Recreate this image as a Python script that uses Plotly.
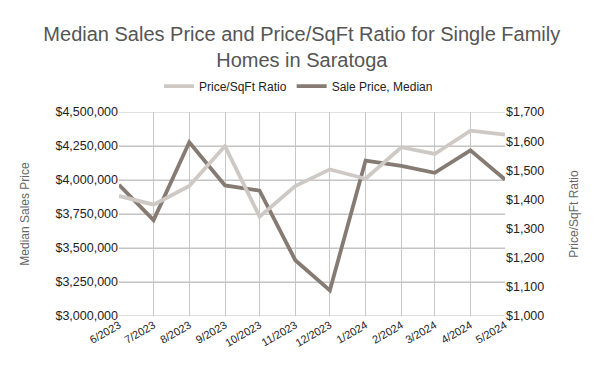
import plotly.graph_objects as go

months = ["2023-06-01", "2023-07-01", "2023-08-01", "2023-09-01", "2023-10-01", "2023-11-01",
          "2023-12-01", "2024-01-01", "2024-02-01", "2024-03-01", "2024-04-01", "2024-05-01"]
tick_labels = ["6/2023", "7/2023", "8/2023", "9/2023", "10/2023", "11/2023",
               "12/2023", "1/2024", "2/2024", "3/2024", "4/2024", "5/2024"]
sale_price_median = [3965000, 3705000, 4278000, 3960000, 3922000, 3410000,
                     3188000, 4143000, 4103000, 4053000, 4218000, 4003000]
price_per_sqft = [1412, 1382, 1446, 1583, 1341, 1446,
                  1503, 1471, 1579, 1556, 1636, 1622]
sale_price_ticks = [3000000, 3250000, 3500000, 3750000, 4000000, 4250000, 4500000]
sqft_ticks = [1000, 1100, 1200, 1300, 1400, 1500, 1600, 1700]

FONT = "Arial, Liberation Sans, sans-serif"
LIGHT = "#cfc9c5"
DARK = "#857b73"
GRID = "#c8c8c8"

# horizontal gridlines at the left-axis ticks, drawn under the data lines
grid_x, grid_y = [], []
for t in sale_price_ticks:
    grid_x += [months[0], months[-1], None]
    grid_y += [t, t, None]

fig = go.Figure()
fig.add_trace(go.Scatter(x=grid_x, y=grid_y, mode="lines", line=dict(color="#c2c2c2", width=1),
                         showlegend=False, hoverinfo="skip", yaxis="y", connectgaps=False))
fig.add_trace(go.Scatter(x=months, y=price_per_sqft, name="Price/SqFt Ratio",
                         mode="lines", line=dict(color=LIGHT, width=3.8), yaxis="y2"))
fig.add_trace(go.Scatter(x=months, y=sale_price_median, name="Sale Price, Median",
                         mode="lines", line=dict(color=DARK, width=3.8), yaxis="y"))

fig.update_layout(
    width=600, height=371,
    margin=dict(l=119, r=95, t=112, b=55, autoexpand=False),
    paper_bgcolor="white", plot_bgcolor="rgba(0,0,0,0)",
    font=dict(family=FONT, color="#222222", size=12),
    title=dict(text="Median Sales Price and Price/SqFt Ratio for Single Family<br>Homes in Saratoga",
               x=0.503, xanchor="center", y=0.889, yanchor="top",
               font=dict(size=20, color="#555555", family=FONT)),
    legend=dict(orientation="h", x=0.465, xanchor="center",
                y=1.127, yanchor="middle",
                font=dict(size=12, color="#222222"), itemwidth=30),
    showlegend=True,
    xaxis=dict(type="date", range=[months[0], months[-1]], tickvals=months, ticktext=tick_labels,
               tickangle=-30, showgrid=True, gridcolor=GRID, gridwidth=1, automargin=False,
               showline=False, ticks="", tickfont=dict(size=11, color="#222222"),
               zeroline=False),
    yaxis=dict(range=[3000000, 4500000], tickvals=sale_price_ticks,
               tickformat="$,.0f", automargin=False,
               showgrid=True, gridcolor=GRID, gridwidth=1, zeroline=False,
               title=dict(text="Median Sales Price", font=dict(size=12, color="#666666"), standoff=23),
               tickfont=dict(size=12.5, color="#222222")),
    yaxis2=dict(range=[1000, 1700], tickvals=sqft_ticks,
                tickformat="$,.0f", overlaying="y", side="right",
                showgrid=False, zeroline=False, automargin=False,
                title=dict(text="Price/SqFt Ratio", font=dict(size=12, color="#666666"), standoff=26),
                tickfont=dict(size=12.5, color="#222222")),
)

fig.write_html("out.html", config={"displayModeBar": False},
               post_script="document.body.style.margin='0';")
